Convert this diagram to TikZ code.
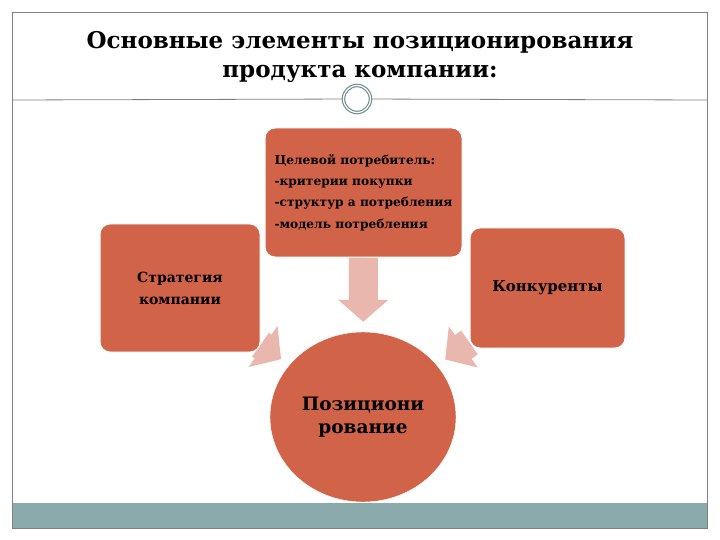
\documentclass[tikz,border=0pt]{standalone}
\usepackage{fontspec}
\setmainfont{DejaVu Serif}
\usetikzlibrary{shapes.geometric,arrows.meta,backgrounds}
\definecolor{boxred}{RGB}{209,99,73}
\definecolor{arrowpink}{RGB}{233,183,174}
\definecolor{bandteal}{RGB}{139,170,171}
\definecolor{framegray}{RGB}{128,128,128}
\tikzset{
  elem/.style={rectangle, rounded corners=10pt, fill=boxred, draw=white, line width=1pt, inner sep=2pt, align=center, font=\bfseries\fontsize{14}{22}\selectfont},
  flow/.style={arrowpink, line width=29pt, -{Triangle[length=22pt,width=49pt]}, shorten >=10pt},
}
\begin{document}
\begin{tikzpicture}[x=1pt,y=-1pt]
    \useasboundingbox (0,0) rectangle (720,540);
    % Рамка и заголовок
    \fill[bandteal] (12,503) rectangle (707,528);
    \draw[framegray, line width=0.8pt] (12,12) rectangle (707,528);
    \node at (360,57) (title) [align=center, font=\bfseries\fontsize{23}{29}\selectfont] {Основные элементы позиционирования\\продукта компании:};
    \node at (357,99) (orn) [circle, minimum size=27pt, fill=white, draw=bandteal!85!black, double=white, double distance=1.2pt, line width=1.2pt] {};
    \coordinate (rl) at (12,100);
    \coordinate (rr) at (707,100);
    \draw[framegray, line width=0.8pt] (rl) -- (orn);
    \draw[framegray, line width=0.8pt] (orn) -- (rr);
    % Элементы
    \node at (363.5,192.5) (target) [elem, minimum width=197pt, minimum height=129pt, align=left, font=\bfseries\fontsize{12.2}{21.3}\selectfont] {Целевой потребитель:\\-критерии покупки\\-структур а потребления\\-модель потребления};
    \node at (180,288) (strategy) [elem, minimum width=160pt, minimum height=128pt] {Стратегия\\компании};
    \node at (547.5,288) (rivals) [elem, minimum width=155pt, minimum height=120pt, font=\bfseries\fontsize{15}{22}\selectfont] {Конкуренты};
    \node at (363,417) (pos) [ellipse, fill=boxred, draw=white, inner sep=0pt, minimum width=186pt, minimum height=170pt, align=center, font=\bfseries\fontsize{18.5}{23.5}\selectfont] {Позициони\\рование};
    % Стрелки
    \begin{scope}[on background layer]
        \fill[white] (0,0) rectangle (720,540);
        \draw[flow] (target) -- (pos);
        \draw[flow] (strategy) -- (pos);
        \draw[flow] (rivals) -- (pos);
    \end{scope}
\end{tikzpicture}
\end{document}
